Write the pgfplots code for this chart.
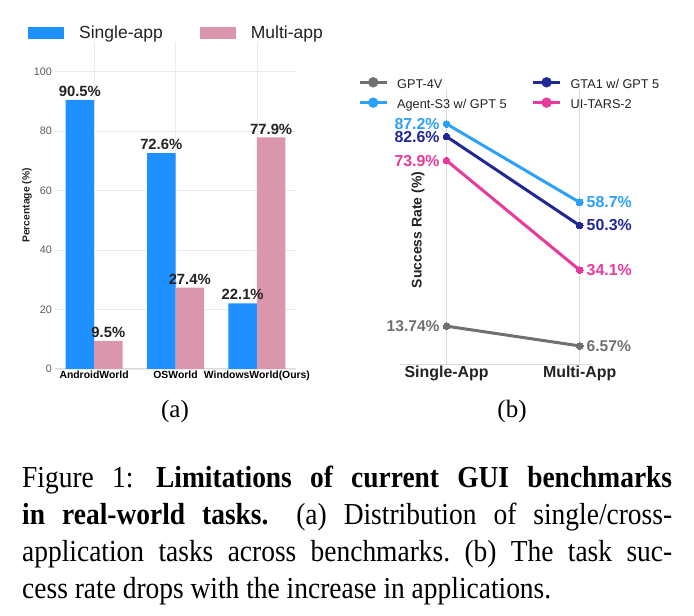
\documentclass[border=0pt]{standalone}
\usepackage{fontspec}
\setmainfont{Liberation Serif}
\setsansfont{Liberation Sans}
\newfontfamily\capfont{Liberation Serif}[FakeStretch=0.9]
\usepackage{pgfplots}
\usepackage{pgfplotstable}
\pgfplotsset{compat=1.18}
\definecolor{barblue}{RGB}{30,144,255}
\definecolor{barpink}{RGB}{217,150,173}
\definecolor{cgray}{RGB}{112,112,112}
\definecolor{cnavy}{RGB}{32,40,150}
\definecolor{clblue}{RGB}{45,160,250}
\definecolor{cpink}{RGB}{232,58,155}
\definecolor{txt}{RGB}{34,34,34}
\definecolor{gridc}{RGB}{236,236,236}
\definecolor{gridb}{RGB}{218,218,218}

\pgfplotstableread{
x y lab
0 13.74 13.74
1 6.57 6.57
}\tgpt
\pgfplotstableread{
x y lab
0 82.6 82.6
1 50.3 50.3
}\tgta
\pgfplotstableread{
x y lab
0 87.2 87.2
1 58.7 58.7
}\tagent
\pgfplotstableread{
x y lab
0 73.9 73.9
1 34.1 34.1
}\ttars

\begin{document}
\begin{tikzpicture}[x=1pt,y=1pt]
\useasboundingbox (0,0) rectangle (694,616);
% ---------------- (a) ----------------
\begin{axis}[
  at={(55pt,247pt)}, anchor=south west,
  scale only axis, width=241pt, height=327pt,
  xmin=-0.48, xmax=2.48, ymin=0, ymax=110,
  ybar=0pt, bar width=28.5pt, clip=false,
  xtick={0,1,2}, xticklabels={AndroidWorld,OSWorld,WindowsWorld(Ours)},
  ytick={0,20,40,60,80,100},
  /pgf/number format/assume math mode=true,
  grid=major, grid style={draw=gridc, line width=0.6pt},
  axis x line*=bottom, axis y line*=left,
  x axis line style={draw=gridb, line width=1pt},
  y axis line style={draw=none},
  major tick length=0pt,
  xticklabel style={font=\sffamily\bfseries\fontsize{10.4}{12}\selectfont, text=black, inner sep=0pt, anchor=north, yshift=-2pt},
  yticklabel style={font=\sffamily\fontsize{10.8}{12}\selectfont, text=black!65, inner sep=0pt, anchor=east, xshift=-3pt},
  ylabel={Percentage (\%)},
  every axis y label/.style={at={(axis description cs:-0.116,0.5)}, rotate=90, anchor=center, font=\sffamily\bfseries\fontsize{10.3}{12}\selectfont, text=txt},
  point meta=explicit symbolic,
  nodes near coords={\pgfplotspointmeta\%},
  every node near coord/.append style={font=\sffamily\bfseries\fontsize{14.8}{16}\selectfont, text=txt, anchor=south, inner sep=0pt, yshift=3pt},
  legend columns=2,
  legend style={at={(axis description cs:0.5,1.0275)}, anchor=center, draw=none, fill=none, inner sep=0pt,
    font=\sffamily\fontsize{17.5}{20}\selectfont, text=txt,
    nodes={inner sep=0pt},
    /tikz/every odd column/.append style={column sep=15pt},
    /tikz/every even column/.append style={column sep=37pt}},
]
\addplot[fill=barblue, draw=none, legend image code/.code={\fill[barblue] (0pt,-6pt) rectangle (36pt,6pt);}]
  coordinates {(0,90.5) [90.5] (1,72.6) [72.6] (2,22.1) [22.1]};
\addlegendentry{Single-app}
\addplot[fill=barpink, draw=none, legend image code/.code={\fill[barpink] (0pt,-6pt) rectangle (36pt,6pt);}]
  coordinates {(0,9.5) [9.5] (1,27.4) [27.4] (2,77.9) [77.9]};
\addlegendentry{Multi-app}
\end{axis}
% ---------------- (b) ----------------
\begin{axis}[
  at={(400pt,252pt)}, anchor=south west,
  scale only axis, width=193pt, height=275.3pt,
  xmin=-0.35, xmax=1.1, ymin=0, ymax=100, clip=false,
  xtick={0,1}, xticklabels={Single-App,Multi-App},
  ytick=\empty,
  xmajorgrids, grid style={draw=gridb, line width=0.9pt},
  axis x line*=bottom, axis y line*=left,
  x axis line style={draw=gridb, line width=0.9pt},
  y axis line style={draw=none},
  major tick length=0pt,
  xticklabel style={font=\sffamily\bfseries\fontsize{15.9}{18}\selectfont, text=txt, inner sep=0pt, anchor=north, yshift=-2pt},
  ylabel={Success Rate (\%)},
  every axis y label/.style={at={(axis description cs:0.093,0.487)}, rotate=90, anchor=center, font=\sffamily\bfseries\fontsize{14}{16}\selectfont, text=txt},
  point meta=explicit symbolic,
  nodes near coords={\pgfplotspointmeta\%},
  every node near coord/.append style={inner ysep=0pt, inner xsep=7pt},
  coordinate style/.condition={x<0.5}{anchor=east},
  coordinate style/.condition={x>0.5}{anchor=west},
  legend columns=2,
  legend cell align=left,
  legend style={at={(axis description cs:-0.2176,1.0425)}, anchor=north west, draw=none, fill=none, inner sep=0pt,
    font=\sffamily\fontsize{12.7}{14}\selectfont, text=txt, row sep=5.5pt,
    nodes={inner sep=1pt, text height=9pt, text depth=2.5pt},
    /tikz/every odd column/.append style={column sep=8pt},
    /tikz/every even column/.append style={column sep=24pt}},
]
\addplot[color=cgray, line width=3pt, mark=*, mark size=3.4pt, mark options={solid, fill=cgray, draw=cgray, line width=0pt},
  legend image code/.code={\draw[cgray, line width=3pt] (0pt,3pt) -- (27pt,3pt); \fill[cgray] (13.5pt,3pt) circle (3.6pt);},
  every node near coord/.append style={font=\sffamily\bfseries\fontsize{15.6}{17}\selectfont, text=cgray}]
  table[x=x, y=y, meta=lab] {\tgpt};
\addlegendentry{GPT-4V}
\addplot[color=cnavy, line width=3pt, mark=*, mark size=3.4pt, mark options={solid, fill=cnavy, draw=cnavy, line width=0pt},
  legend image code/.code={\draw[cnavy, line width=3pt] (0pt,3pt) -- (27pt,3pt); \fill[cnavy] (13.5pt,3pt) circle (3.6pt);},
  every node near coord/.append style={font=\sffamily\bfseries\fontsize{15.9}{17}\selectfont, text=cnavy}]
  table[x=x, y=y, meta=lab] {\tgta};
\addlegendentry{GTA1 w/ GPT 5}
\addplot[color=clblue, line width=3pt, mark=*, mark size=3.4pt, mark options={solid, fill=clblue, draw=clblue, line width=0pt},
  legend image code/.code={\draw[clblue, line width=3pt] (0pt,3pt) -- (27pt,3pt); \fill[clblue] (13.5pt,3pt) circle (3.6pt);},
  every node near coord/.append style={font=\sffamily\bfseries\fontsize{15.9}{17}\selectfont, text=clblue}]
  table[x=x, y=y, meta=lab] {\tagent};
\addlegendentry{Agent-S3 w/ GPT 5}
\addplot[color=cpink, line width=3pt, mark=*, mark size=3.4pt, mark options={solid, fill=cpink, draw=cpink, line width=0pt},
  legend image code/.code={\draw[cpink, line width=3pt] (0pt,3pt) -- (27pt,3pt); \fill[cpink] (13.5pt,3pt) circle (3.6pt);},
  every node near coord/.append style={font=\sffamily\bfseries\fontsize{15.9}{17}\selectfont, text=cpink}]
  table[x=x, y=y, meta=lab] {\ttars};
\addlegendentry{UI-TARS-2}
\end{axis}
% ---------------- sub-captions and caption ----------------
\node[anchor=base, inner sep=0pt, font=\fontsize{25}{30}\selectfont] at (175,198) {(a)};
\node[anchor=base, inner sep=0pt, font=\fontsize{25}{30}\selectfont] at (512,198) {(b)};
\node[anchor=base west, inner sep=0pt, text width=650pt, align=justify,
      font=\capfont\fontsize{30.5}{37}\selectfont] at (22,128)
  {\frenchspacing Figure 1:\hspace{0.15em} \textbf{Limitations of current GUI benchmarks}\linebreak
   \textbf{in real-world tasks.}\hspace{0.35em} (a) Distribution of single/cross-\linebreak
   application tasks across benchmarks. (b) The task suc-\linebreak
   cess rate drops with the increase in applications.};
\end{tikzpicture}
\end{document}
